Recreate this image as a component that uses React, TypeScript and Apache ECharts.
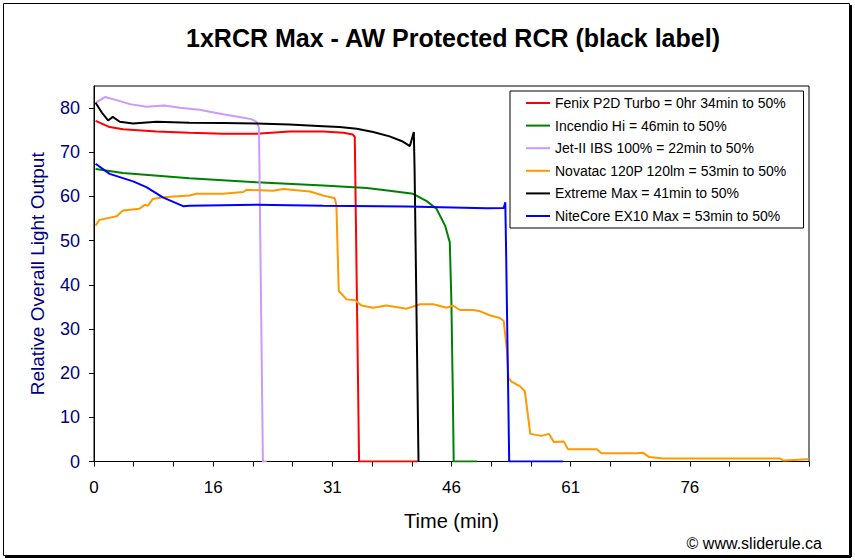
import React, { useEffect, useRef } from "react";
import * as echarts from "echarts";

const TITLE = "1xRCR Max - AW Protected RCR (black label)";
const X_NAME = "Time (min)";
const Y_NAME = "Relative Overall Light Output";
const COPYRIGHT = "© www.sliderule.ca";

// x tick step in minutes (one minor tick), labels every 3 ticks
const X_STEP = 5.08;
const X_TICKS = 18;
const xLabels = ["0", "16", "31", "46", "61", "76"];

const seriesNames = [
  "Fenix P2D Turbo = 0hr 34min to 50%",
  "Incendio Hi = 46min to 50%",
  "Jet-II IBS 100% = 22min to 50%",
  "Novatac 120P 120lm = 53min to 50%",
  "Extreme Max = 41min to 50%",
  "NiteCore EX10 Max = 53min to 50%",
];
const seriesColors = ["#FF0000", "#008000", "#CC99FF", "#FF9900", "#000000", "#0000FF"];

// [time (min), relative output]
const fenix = [
  [0.2, 77.1], [2, 75.7], [3.7, 75.2], [8, 74.7], [12.2, 74.4], [16.5, 74.2], [20.8, 74.2],
  [25, 74.7], [29.3, 74.7], [31.9, 74.4], [33.1, 74.0], [33.35, 73.5], [33.9, 0], [41.4, 0],
];
const incendio = [
  [0.2, 66.2], [3.7, 65.3], [12.2, 64.1], [20.8, 63.2], [29.3, 62.5], [34.9, 61.9], [37.8, 61.3],
  [40.8, 60.6], [42.5, 59.0], [43.8, 57.2], [44.9, 53.4], [45.5, 49.6], [45.7, 36.7], [45.9, 14],
  [46.0, 0], [49, 0],
];
const jet = [
  [0.2, 81.2], [1.4, 82.5], [2.9, 81.8], [4.6, 80.9], [6.7, 80.3], [9, 80.6], [11, 80.1],
  [13.5, 79.6], [16.5, 78.6], [18.6, 78.0], [20.1, 77.5], [20.8, 76.9], [21.1, 75.5], [21.6, 0],
  [22.1, 0],
];
const novatac = [
  [0.2, 53.4], [0.7, 54.7], [2.9, 55.5], [3.7, 56.8], [5.8, 57.2], [6.5, 58.1], [6.9, 57.9],
  [7.5, 59.4], [8.8, 59.8], [12.2, 60.2], [13.1, 60.6], [16.5, 60.6], [19.1, 61.0], [19.5, 61.5],
  [22.9, 61.3], [24.2, 61.7], [27.6, 61.1], [29.3, 60.2], [30.8, 59.6], [31.0, 57.9], [31.3, 38.6],
  [32.3, 36.7], [33.4, 36.5], [34.2, 35.3], [35.7, 34.8], [37.4, 35.3], [40, 34.6], [41.7, 35.6],
  [43.4, 35.6], [45.1, 34.8], [45.9, 35.3], [46.8, 34.3], [48.5, 34.3], [49.4, 34.0], [50.6, 33.1],
  [51.9, 32.5], [52.4, 31.8], [52.8, 25.3], [53.0, 18.9], [53.4, 18.1], [54.5, 17.0], [55.1, 15.9],
  [55.8, 6.25], [57.2, 5.8], [58.2, 6.25], [58.8, 4.4], [60.1, 4.5], [60.6, 2.8], [64.3, 2.8],
  [64.9, 1.85], [69.4, 1.85], [70.2, 2.0], [71.0, 1.0], [72.8, 0.7], [87.7, 0.7], [88.2, 0.2],
  [91.4, 0.5],
];
const extreme = [
  [0.2, 81.2], [1.0, 79], [1.8, 77.2], [2.4, 78.0], [3.3, 76.9], [5, 76.5], [8, 76.9],
  [12.2, 76.7], [16.5, 76.6], [20.8, 76.5], [25, 76.3], [29.3, 75.9], [31.4, 75.7], [33.6, 75.3],
  [35.7, 74.6], [37.8, 73.6], [39.4, 72.5], [40.4, 71.4], [40.9, 74.6], [41.0, 66], [41.5, 0],
];
const nitecore = [
  [0.2, 67.4], [2, 65.1], [5, 63.4], [6.7, 62.1], [8.8, 59.8], [11.4, 57.8], [12.2, 57.9],
  [20.8, 58.1], [29.3, 57.9], [40, 57.7], [50.2, 57.3], [52.4, 57.4], [52.6, 58.7], [52.7, 48],
  [53.1, 0], [60, 0],
];
const seriesData = [fenix, incendio, jet, novatac, extreme, nitecore];

const FONT = "'Liberation Sans', Arial, Helvetica, sans-serif";

export default function App() {
  const ref = useRef<HTMLDivElement>(null);
  useEffect(() => {
    if (!ref.current) return;
    const chart = echarts.init(ref.current, undefined, { renderer: "svg" });
    const option = {
      animation: false,
      backgroundColor: "#ffffff",
      textStyle: { fontFamily: FONT },
      graphic: [
        {
          type: "rect",
          shape: { x: 3.5, y: 3.5, width: 846, height: 552 },
          style: { fill: "none", stroke: "#000", lineWidth: 1 },
          z: 0,
        },
        {
          type: "line",
          shape: { x1: 851, y1: 5, x2: 851, y2: 557 },
          style: { stroke: "#000", lineWidth: 2 },
        },
        {
          type: "line",
          shape: { x1: 5, y1: 557, x2: 851, y2: 557 },
          style: { stroke: "#000", lineWidth: 2 },
        },
        {
          type: "text",
          x: 453,
          y: 38,
          style: {
            text: TITLE,
            font: `bold 25px ${FONT}`,
            fill: "#000",
            textAlign: "center",
            textVerticalAlign: "middle",
          },
        },
        {
          type: "text",
          x: 822,
          y: 543,
          style: {
            text: COPYRIGHT,
            font: `16px ${FONT}`,
            fill: "#000",
            textAlign: "right",
            textVerticalAlign: "middle",
          },
        },
      ],
      grid: {
        left: 94,
        top: 86,
        right: 46,
        bottom: 98.5,
        show: true,
        borderColor: "#000",
        borderWidth: 1,
        backgroundColor: "transparent",
      },
      legend: {
        orient: "vertical",
        left: 510,
        top: 91,
        itemWidth: 24,
        itemHeight: 2,
        icon: "rect",
        itemGap: 6.6,
        padding: [4, 17, 4, 16],
        borderColor: "#000",
        borderWidth: 1,
        backgroundColor: "#fff",
        data: seriesNames,
        textStyle: { fontSize: 14, fontFamily: FONT, color: "#000", lineHeight: 16 },
      },
      xAxis: {
        type: "value",
        min: 0,
        max: X_STEP * X_TICKS,
        interval: X_STEP,
        name: X_NAME,
        nameLocation: "middle",
        nameGap: 49,
        nameTextStyle: { fontSize: 20, color: "#000", fontFamily: FONT },
        axisLine: { show: true, lineStyle: { color: "#000", width: 1 } },
        axisTick: { show: true, length: 5, lineStyle: { color: "#000" } },
        splitLine: { show: false },
        axisLabel: {
          fontSize: 17,
          color: "#000",
          margin: 17,
          fontFamily: FONT,
          formatter: (v: number) => {
            const i = Math.round(v / X_STEP);
            if (i % 3 === 0 && i / 3 < xLabels.length) return xLabels[i / 3];
            return "";
          },
        },
      },
      yAxis: {
        type: "value",
        min: 0,
        max: 85,
        interval: 10,
        name: Y_NAME,
        nameLocation: "middle",
        nameGap: 47,
        nameTextStyle: { fontSize: 19, color: "#000080", fontFamily: FONT },
        axisLine: { show: true, lineStyle: { color: "#000", width: 1 } },
        axisTick: { show: true, length: 5, lineStyle: { color: "#000" } },
        splitLine: { show: false },
        axisLabel: {
          fontSize: 18,
          color: "#000080",
          margin: 14,
          fontFamily: FONT,
          showMaxLabel: false,
        },
      },
      series: seriesNames.map((name, k) => ({
        name,
        type: "line",
        data: seriesData[k],
        showSymbol: false,
        symbol: "none",
        smooth: false,
        color: seriesColors[k],
        lineStyle: { width: 2, color: seriesColors[k] },
      })),
    };
    chart.setOption(option as any);
    return () => chart.dispose();
  }, []);
  return (
    <div
      ref={ref}
      style={{ position: "fixed", left: 0, top: 0, width: 855, height: 560 }}
    />
  );
}
